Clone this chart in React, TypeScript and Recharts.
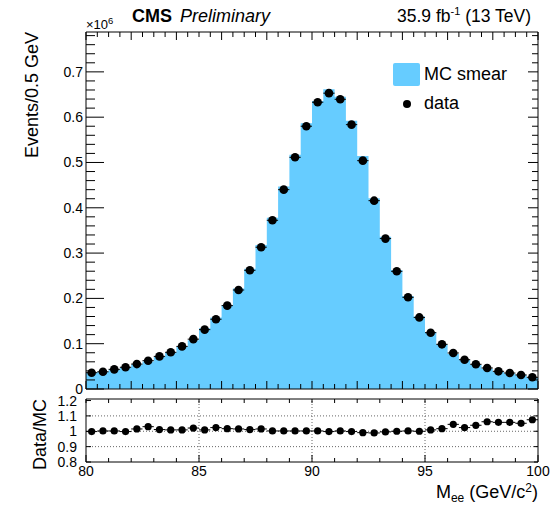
import {
  Area,
  ComposedChart,
  ErrorBar,
  Legend,
  ReferenceArea,
  ReferenceLine,
  Scatter,
  XAxis,
  YAxis,
} from "recharts";

const FONT = '"Liberation Sans", Arial, Helvetica, sans-serif';
const MC_COLOR = "#66ccff";

// M_ee bin centres (GeV), 0.5 GeV bins
const binCenters = [
  80.25, 80.75, 81.25, 81.75, 82.25, 82.75, 83.25, 83.75, 84.25, 84.75,
  85.25, 85.75, 86.25, 86.75, 87.25, 87.75, 88.25, 88.75, 89.25, 89.75,
  90.25, 90.75, 91.25, 91.75, 92.25, 92.75, 93.25, 93.75, 94.25, 94.75,
  95.25, 95.75, 96.25, 96.75, 97.25, 97.75, 98.25, 98.75, 99.25, 99.75,
];
const HALF_BIN = 0.25;

// events per bin, x10^6
const dataEvents = [
  0.036, 0.038, 0.0434, 0.048, 0.055, 0.0625, 0.072, 0.081, 0.094, 0.11,
  0.131, 0.154, 0.184, 0.2185, 0.262, 0.313, 0.3724, 0.44, 0.5114, 0.58,
  0.633, 0.653, 0.6395, 0.5835, 0.504, 0.4157, 0.332, 0.2598, 0.2024, 0.158,
  0.1243, 0.0986, 0.0795, 0.0647, 0.0545, 0.0464, 0.039, 0.0353, 0.031, 0.0258,
];

const mcSmear = [
  0.0361, 0.0379, 0.0433, 0.0481, 0.0542, 0.0607, 0.0712, 0.0803, 0.0932, 0.1077,
  0.134, 0.158, 0.185, 0.222, 0.2656, 0.318, 0.378, 0.447, 0.517, 0.5865,
  0.6358, 0.6615, 0.6453, 0.592, 0.5143, 0.421, 0.336, 0.2627, 0.2053, 0.16,
  0.125, 0.0985, 0.0775, 0.0642, 0.0532, 0.0447, 0.0378, 0.0342, 0.0302, 0.0248,
];

const dataOverMc = [
  0.998, 1.002, 1.002, 0.998, 1.015, 1.03, 1.011, 1.009, 1.009, 1.021,
  1.009, 1.024, 1.017, 1.015, 1.011, 1.015, 1.002, 1.002, 1.002, 1.002,
  1.002, 0.998, 1.002, 0.998, 0.991, 0.989, 0.996, 1.0, 1.002, 1.0,
  1.009, 1.017, 1.045, 1.024, 1.039, 1.062, 1.058, 1.058, 1.052, 1.075,
];

const mainYMajor = [0, 0.1, 0.2, 0.3, 0.4, 0.5, 0.6, 0.7];
const ratioYMajor = [0.8, 0.9, 1.0, 1.1, 1.2];
const ratioGridX = [85, 90, 95];
const ratioGridY = [0.9, 1.0, 1.1];

// frame geometry
const W = 555;
const PLOT_L = 86;
const PLOT_R = 538;
const MAIN_T = 32;
const MAIN_B = 389;
const MAIN_H = 400;
const RATIO_TOP = 390; // top of the lower chart's svg
const RATIO_H = 505 - RATIO_TOP;
const RATIO_T = 399;
const RATIO_B = 462;
const AXIS_PX = 1; // axes need a non-zero size to be drawn

const steps = (from: number, to: number, step: number) =>
  Array.from({ length: Math.round((to - from) / step) + 1 }, (_, i) =>
    +(from + i * step).toFixed(3)
  );
const near = (v: number, step: number) =>
  Math.abs(v / step - Math.round(v / step)) < 1e-6;
const fmt = (v: number) => String(Math.round(v * 10) / 10);

const mainYTicks = steps(0, 0.78, 0.02);
const mainXTicks = steps(80, 100, 0.5);
const ratioXTicks = steps(80, 100, 1);

const histData = [
  ...binCenters.map((c, i) => ({ x: c - HALF_BIN, mc: mcSmear[i] })),
  { x: 100, mc: mcSmear[mcSmear.length - 1] },
];
const dataPoints = binCenters.map((x, i) => ({
  x,
  y: dataEvents[i],
  xerr: HALF_BIN,
}));
const ratioPoints = binCenters.map((x, i) => ({
  x,
  y: dataOverMc[i],
  xerr: HALF_BIN,
}));

const MainYTick = (props: any) => {
  const y = props.payload?.coordinate ?? props.y;
  const v = props.payload.value;
  const major = mainYMajor.some((m) => Math.abs(m - v) < 1e-6);
  return (
    <g>
      <line x1={PLOT_L} x2={PLOT_L + (major ? 18 : 9)} y1={y} y2={y} stroke="#000" />
      <line x1={PLOT_R} x2={PLOT_R - (major ? 10 : 6)} y1={y} y2={y} stroke="#000" />
      {major && (
        <text x={PLOT_L - 3} y={y + 5} textAnchor="end" fontSize={14} fontFamily={FONT} fill="#000">
          {fmt(v)}
        </text>
      )}
    </g>
  );
};

const MainXTick = (props: any) => {
  const x = props.payload?.coordinate ?? props.x;
  const major = near(props.payload.value, 2);
  const len = major ? 8 : 5;
  return (
    <g>
      <line x1={x} x2={x} y1={MAIN_B} y2={MAIN_B - len} stroke="#000" />
      <line x1={x} x2={x} y1={MAIN_T} y2={MAIN_T + len} stroke="#000" />
    </g>
  );
};

const RatioYTick = (props: any) => {
  const y = props.payload?.coordinate ?? props.y;
  const v = props.payload.value;
  return (
    <g>
      <line x1={PLOT_L} x2={PLOT_L + 5} y1={y} y2={y} stroke="#000" />
      <line x1={PLOT_R} x2={PLOT_R - 4} y1={y} y2={y} stroke="#000" />
      <text x={PLOT_L - 9} y={y + 5} textAnchor="end" fontSize={14} fontFamily={FONT} fill="#000">
        {fmt(v)}
      </text>
    </g>
  );
};

const RatioXTick = (props: any) => {
  const x = props.payload?.coordinate ?? props.x;
  const v = props.payload.value;
  const major = near(v, 5);
  const bottom = RATIO_B - RATIO_TOP;
  const top = RATIO_T - RATIO_TOP;
  return (
    <g>
      <line x1={x} x2={x} y1={bottom} y2={bottom - (major ? 7 : 4)} stroke="#000" />
      <line x1={x} x2={x} y1={top} y2={top + 4} stroke="#000" />
      {major && (
        <text x={x} y={bottom + 14} textAnchor="middle" fontSize={14} fontFamily={FONT} fill="#000">
          {v}
        </text>
      )}
    </g>
  );
};

const DataMarker = (r: number) => (p: any) =>
  <circle cx={p.cx} cy={p.cy} r={r} fill="#000" />;

const LegendBox = (props: any) => (
  <div style={{ fontFamily: FONT, fontSize: 18, color: "#000" }}>
    {(props.payload || []).map((e: any) => (
      <div key={e.value} style={{ display: "flex", alignItems: "center", height: 29 }}>
        <span style={{ width: 27, display: "flex", justifyContent: "center" }}>
          {e.type === "square" ? (
            <span style={{ width: 27, height: 23, background: MC_COLOR, borderRadius: 2 }} />
          ) : (
            <span style={{ width: 8, height: 8, borderRadius: "50%", background: "#000" }} />
          )}
        </span>
        <span style={{ marginLeft: 4 }}>{e.value}</span>
      </div>
    ))}
  </div>
);

export default function App() {
  return (
    <div
      style={{
        position: "absolute",
        left: 0,
        top: 0,
        width: W,
        height: 505,
        background: "#fff",
        fontFamily: FONT,
      }}
    >
      <div style={{ position: "absolute", left: 0, top: 0 }}>
        <ComposedChart
          width={W}
          height={MAIN_H}
          data={histData}
          margin={{
            top: MAIN_T,
            right: W - PLOT_R,
            bottom: MAIN_H - MAIN_B - AXIS_PX,
            left: PLOT_L - AXIS_PX,
          }}
        >
          <XAxis
            type="number"
            dataKey="x"
            domain={[80, 100]}
            allowDataOverflow
            ticks={mainXTicks}
            interval={0}
            height={AXIS_PX}
            axisLine={false}
            tickLine={false}
            tick={<MainXTick />}
          />
          <YAxis
            type="number"
            domain={[0, 0.788]}
            allowDataOverflow
            ticks={mainYTicks}
            interval={0}
            width={AXIS_PX}
            axisLine={false}
            tickLine={false}
            tick={<MainYTick />}
          />
          <Area
            type="stepAfter"
            dataKey="mc"
            name="MC smear"
            legendType="square"
            stroke="none"
            fill={MC_COLOR}
            fillOpacity={1}
            isAnimationActive={false}
          />
          <Scatter
            data={dataPoints}
            dataKey="y"
            name="data"
            legendType="circle"
            fill="#000"
            shape={DataMarker(4.3)}
            isAnimationActive={false}
          >
            <ErrorBar dataKey="xerr" direction="x" width={0} stroke="#000" strokeWidth={1} />
          </Scatter>
          <ReferenceArea x1={80} x2={100} y1={0} y2={0.788} fill="none" stroke="#000" strokeWidth={1} />
          <Legend
            layout="vertical"
            align="center"
            verticalAlign="middle"
            content={<LegendBox />}
            wrapperStyle={{ left: 393, top: 60, width: 150 }}
          />
        </ComposedChart>
      </div>

      <div style={{ position: "absolute", left: 0, top: RATIO_TOP }}>
        <ComposedChart
          width={W}
          height={RATIO_H}
          margin={{
            top: RATIO_T - RATIO_TOP,
            right: W - PLOT_R,
            bottom: 505 - RATIO_B - AXIS_PX,
            left: PLOT_L - AXIS_PX,
          }}
        >
          <XAxis
            type="number"
            dataKey="x"
            domain={[80, 100]}
            allowDataOverflow
            ticks={ratioXTicks}
            interval={0}
            height={AXIS_PX}
            axisLine={false}
            tickLine={false}
            tick={<RatioXTick />}
          />
          <YAxis
            type="number"
            domain={[0.8, 1.21]}
            allowDataOverflow
            ticks={ratioYMajor}
            interval={0}
            width={AXIS_PX}
            axisLine={false}
            tickLine={false}
            tick={<RatioYTick />}
          />
          {ratioGridX.map((v) => (
            <ReferenceLine key={`gx${v}`} x={v} stroke="#666" strokeDasharray="1 2" />
          ))}
          {ratioGridY.map((v) => (
            <ReferenceLine key={`gy${v}`} y={v} stroke="#666" strokeDasharray="1 2" />
          ))}
          <Scatter
            data={ratioPoints}
            dataKey="y"
            fill="#000"
            shape={DataMarker(3.6)}
            isAnimationActive={false}
          >
            <ErrorBar dataKey="xerr" direction="x" width={0} stroke="#000" strokeWidth={1} />
          </Scatter>
          <ReferenceArea x1={80} x2={100} y1={0.8} y2={1.21} fill="none" stroke="#000" strokeWidth={1} />
        </ComposedChart>
      </div>

      <svg
        width={W}
        height={505}
        style={{ position: "absolute", left: 0, top: 0, pointerEvents: "none" }}
        fontFamily={FONT}
      >
        <text x={132} y={22} fontSize={18} fontWeight="bold">CMS</text>
        <text x={180} y={22} fontSize={18} fontStyle="italic">Preliminary</text>
        <text x={86} y={29} fontSize={13}>
          ×10<tspan fontSize={9.5} dy={-5}>6</tspan>
        </text>
        <text x={531} y={22} fontSize={17.5} textAnchor="end">
          35.9 fb<tspan fontSize={11} dy={-7}>-1</tspan>
          <tspan dy={7}> (13 TeV)</tspan>
        </text>
        <text transform={`translate(38,${MAIN_T}) rotate(-90)`} fontSize={18} textAnchor="end">
          Events/0.5 GeV
        </text>
        <text transform={`translate(46,${RATIO_T}) rotate(-90)`} fontSize={18} textAnchor="end">
          Data/MC
        </text>
        <text x={PLOT_R} y={498} fontSize={18} textAnchor="end">
          M<tspan fontSize={12} dy={4}>ee</tspan>
          <tspan dy={-4}> (GeV/c</tspan>
          <tspan fontSize={12} dy={-6}>2</tspan>
          <tspan dy={6}>)</tspan>
        </text>
      </svg>
    </div>
  );
}
